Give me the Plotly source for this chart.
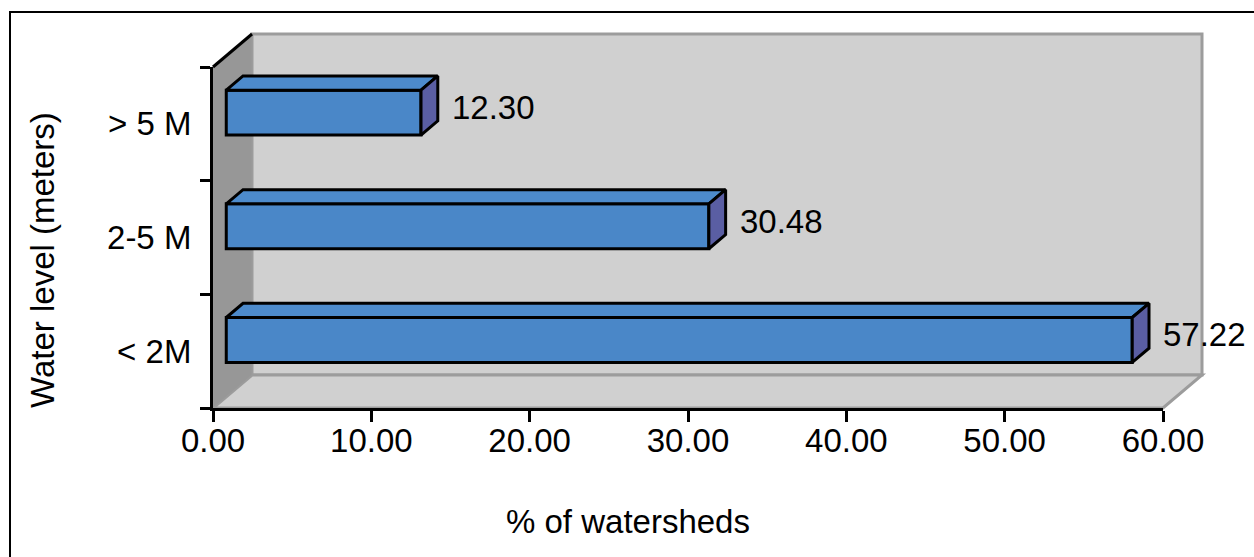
import plotly.graph_objects as go

# ---- data -------------------------------------------------------------
categories = ["< 2M", "2-5 M", "> 5 M"]          # bottom to top
shares = [57.22, 30.48, 12.30]                    # % of watersheds
x_ticks = [0, 10, 20, 30, 40, 50, 60]
x_title = "% of watersheds"
y_title = "Water level (meters)"

# ---- geometry (pixels) ------------------------------------------------
W, H = 1254, 557
PL, PR, PT, PB = 213, 1202, 34, 408      # full plot box incl. wall depth
FX1, FY0 = 1163, 67                      # front plane right / top edge
DX, DY = PR - FX1, FY0 - PT              # wall depth offset
BAR_F, BAR_B = 0.34, 0.77                # bar front/back depth fractions
XMAX = 60
BAR_W = 0.395

FONT = "Liberation Sans, Arial, sans-serif"
FS = 33
BLUE, BLUE_TOP, BLUE_SIDE = "#4a87c8", "#4d8bcc", "#5a5ea3"
WALL, SIDE_WALL, EDGE = "#d0d0d0", "#979797", "#9c9c9c"

xscale = (FX1 - PL) / XMAX               # px per unit
yscale = (PB - FY0) / len(categories)     # px per category


def pxx(x):
    return (x - PL) / (PR - PL)


def pxy(y):
    return (PB - y) / (PB - PT)


def path(pts):
    return "M " + " L ".join(f"{pxx(x):.5f},{pxy(y):.5f}" for x, y in pts) + " Z"


# bar plane offset
ox, oy = DX * BAR_F, DY * BAR_F
bdx = DX * (BAR_B - BAR_F) / xscale
bdy = DY * (BAR_B - BAR_F) / yscale
idx = list(range(len(categories)))

fig = go.Figure()

# invisible anchor trace so the front axes are laid out
fig.add_trace(go.Scatter(
    x=shares, y=idx, mode="markers", marker=dict(opacity=0),
    xaxis="x", yaxis="y", showlegend=False, hoverinfo="skip",
))

# front faces
fig.add_trace(go.Bar(
    x=shares, y=idx, orientation="h", width=BAR_W,
    marker=dict(color=BLUE, line=dict(color="black", width=3)),
    xaxis="x2", yaxis="y2", showlegend=False, hoverinfo="skip",
))

# top and side faces
for i, v in zip(idx, shares):
    top, bot = i + BAR_W / 2, i - BAR_W / 2
    fig.add_trace(go.Scatter(
        x=[0, v, v + bdx, bdx, 0], y=[top, top, top + bdy, top + bdy, top],
        mode="lines", fill="toself", fillcolor=BLUE_TOP,
        line=dict(color="black", width=3), xaxis="x2", yaxis="y2",
        showlegend=False, hoverinfo="skip",
    ))
    fig.add_trace(go.Scatter(
        x=[v, v + bdx, v + bdx, v, v], y=[bot, bot + bdy, top + bdy, top, bot],
        mode="lines", fill="toself", fillcolor=BLUE_SIDE,
        line=dict(color="black", width=3), xaxis="x2", yaxis="y2",
        showlegend=False, hoverinfo="skip",
    ))

# value labels
annotations = []
for i, v in zip(idx, shares):
    annotations.append(dict(
        x=v + bdx, y=i + bdy / 2, xref="x2", yref="y2", text=f"{v:.2f}",
        showarrow=False, xanchor="left", yanchor="middle", xshift=12, yshift=-2,
        font=dict(family=FONT, size=FS, color="black"),
    ))

annotations.append(dict(
    x=pxx(628), y=pxy(521), xref="paper", yref="paper", text=x_title,
    showarrow=False, xanchor="center", yanchor="middle",
    font=dict(family=FONT, size=FS, color="black"),
))
annotations.append(dict(
    x=pxx(42), y=pxy(260), xref="paper", yref="paper", text=y_title,
    showarrow=False, xanchor="center", yanchor="middle", textangle=-90,
    font=dict(family=FONT, size=FS, color="black"),
))

shapes = [
    # outer frame
    dict(type="rect", xref="paper", yref="paper", x0=pxx(10), y0=pxy(12),
         x1=pxx(W + 10), y1=pxy(H + 10), line=dict(color="black", width=2),
         fillcolor="rgba(0,0,0,0)", layer="below"),
    # back wall
    dict(type="path", xref="paper", yref="paper",
         path=path([(PL + DX, PT), (PR, PT), (PR, PB - DY), (PL + DX, PB - DY)]),
         fillcolor=WALL, line=dict(color=EDGE, width=3), layer="below"),
    # floor
    dict(type="path", xref="paper", yref="paper",
         path=path([(PL, PB), (PL + DX, PB - DY), (PR, PB - DY), (FX1, PB)]),
         fillcolor=WALL, line=dict(color=EDGE, width=3), layer="below"),
    # side wall
    dict(type="path", xref="paper", yref="paper",
         path=path([(PL, FY0), (PL + DX, PT), (PL + DX, PB - DY), (PL, PB)]),
         fillcolor=SIDE_WALL, line=dict(color=EDGE, width=1), layer="below"),
    # top edge of side wall
    dict(type="line", xref="paper", yref="paper",
         x0=pxx(PL), y0=pxy(FY0), x1=pxx(PL + DX), y1=pxy(PT),
         line=dict(color="black", width=3), layer="below"),
]

axis_font = dict(family=FONT, size=FS, color="black")

fig.update_layout(
    width=W, height=H,
    margin=dict(l=PL, r=W - PR, t=PT, b=H - PB, pad=0),
    paper_bgcolor="white", plot_bgcolor="rgba(0,0,0,0)",
    showlegend=False,
    xaxis=dict(
        domain=[0, (FX1 - PL) / (PR - PL)], anchor="y", range=[0, XMAX],
        tickvals=x_ticks, tickformat=".2f", ticks="outside", ticklen=11,
        tickwidth=3, tickcolor="black", ticklabelstandoff=-10,
        showline=True, linecolor="black",
        linewidth=3, showgrid=False, zeroline=False, tickfont=axis_font,
        fixedrange=True,
    ),
    yaxis=dict(
        domain=[0, (PB - FY0) / (PB - PT)], anchor="x",
        range=[-0.5, len(categories) - 0.5],
        tickvals=idx, ticktext=categories, ticks="outside", ticklen=10,
        tickcolor="rgba(0,0,0,0)", ticklabelstandoff=2,
        minor=dict(tickvals=[k - 0.5 for k in range(len(categories) + 1)],
                   ticks="outside", ticklen=10, tickwidth=3, tickcolor="black"),
        showline=True, linecolor="black", linewidth=3, showgrid=False,
        zeroline=False, tickfont=axis_font, fixedrange=True,
    ),
    xaxis2=dict(
        domain=[0, 1], anchor="y2", visible=False, showgrid=False,
        range=[-ox / xscale, (PR - PL - ox) / xscale], fixedrange=True,
    ),
    yaxis2=dict(
        domain=[0, 1], anchor="x2", visible=False, showgrid=False,
        range=[-0.5 - oy / yscale, -0.5 + (PB - PT - oy) / yscale],
        fixedrange=True,
    ),
    shapes=shapes,
    annotations=annotations,
)

fig.write_html("out.html")
